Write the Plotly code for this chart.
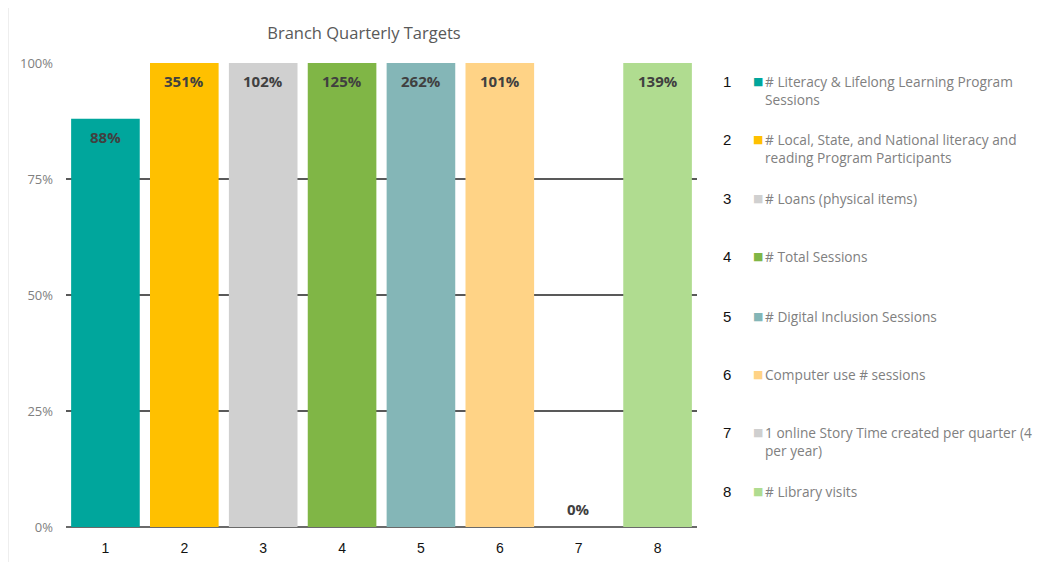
import numpy as np
import plotly.graph_objects as go

categories = ["1", "2", "3", "4", "5", "6", "7", "8"]
values = [0.88, 3.51, 1.02, 1.25, 2.62, 1.01, 0.0, 1.39]
labels = ["88%", "351%", "102%", "125%", "262%", "101%", "0%", "139%"]
legend_names = [
    "# Literacy & Lifelong Learning Program<br>Sessions",
    "# Local, State, and National literacy and<br>reading Program Participants",
    "# Loans (physical items)",
    "# Total Sessions",
    "# Digital Inclusion Sessions",
    "Computer use # sessions",
    "1 online Story Time created per quarter (4<br>per year)",
    "# Library visits",
]
colors = ["#00A69C", "#FFC000", "#D0D0D0", "#80B646", "#84B6B7", "#FFD386", "#CFCFCF", "#B0DC90"]
tick_vals = [0, 0.25, 0.5, 0.75, 1.0]
tick_text = ["0%", "25%", "50%", "75%", "100%"]

shown = np.minimum(np.array(values), 1.0)

# page offset (body margin) and plot area in page pixels
OFF = 8
W, H = 1047 - OFF, 562 - OFF
PL, PR, PT, PB = 66, 697, 63, 527
PW, PH = PR - PL, PB - PT


def px(x):
    return (x - PL) / PW


def py(y):
    return (PB - y) / PH


fig = go.Figure()
fig.add_trace(go.Bar(
    x=categories, y=shown, marker=dict(color=colors, line=dict(width=0)),
    showlegend=False, hoverinfo="skip",
))

for i, (v, lab) in enumerate(zip(shown, labels)):
    if v > 0:
        fig.add_annotation(x=i, y=v, text="<b>" + lab + "</b>", showarrow=False,
                           yanchor="top", yshift=-6, xref="x", yref="y",
                           font=dict(family="Open Sans", size=15, color="#404040"))
    else:
        fig.add_annotation(x=i, y=v, text="<b>" + lab + "</b>", showarrow=False,
                           yanchor="bottom", yshift=6, xref="x", yref="y",
                           font=dict(family="Open Sans", size=15, color="#404040"))

# Custom legend
legend_y = [81, 139, 198, 256, 316, 374, 432, 491]
for cat, name, col, yy in zip(categories, legend_names, colors, legend_y):
    fig.add_annotation(x=px(727), y=py(yy), xref="paper", yref="paper", text=cat,
                       showarrow=False, xanchor="center", yanchor="middle",
                       font=dict(family="Liberation Sans", size=15, color="#111111"))
    fig.add_annotation(x=px(751), y=py(yy), xref="paper", yref="paper", text="■",
                       showarrow=False, xanchor="left", yanchor="middle",
                       font=dict(family="DejaVu Sans", size=11, color=col))
    fig.add_annotation(x=px(763), y=py(yy - 11), xref="paper", yref="paper", text=name,
                       showarrow=False, xanchor="left", yanchor="top", align="left",
                       font=dict(family="Open Sans", size=13.7, color="#808080"))

fig.add_shape(type="rect", xref="paper", yref="paper", x0=px(8.5), x1=px(1100), y0=py(700), y1=py(7.5),
              line=dict(color="#EEEEEE", width=1), fillcolor="rgba(0,0,0,0)")

fig.update_layout(
    width=W, height=H,
    margin=dict(l=PL - OFF, r=W - (PR - OFF), t=PT - OFF, b=H - (PB - OFF), pad=0, autoexpand=False),
    paper_bgcolor="white", plot_bgcolor="white",
    bargap=0.13,
    title=dict(text="Branch Quarterly Targets", x=(364 - OFF) / W, xanchor="center",
               y=1 - (33 - OFF) / H, yanchor="middle",
               font=dict(family="Open Sans", size=16.5, color="#595959")),
    xaxis=dict(type="category", automargin=False, showgrid=False, showline=False, ticks="",
               ticklabelstandoff=11,
               tickfont=dict(family="Liberation Sans", size=14, color="#111111")),
    yaxis=dict(range=[0, 1], automargin=False, tickvals=tick_vals, ticktext=tick_text, showgrid=True,
               gridcolor="#595959", gridwidth=2, zeroline=True, zerolinecolor="#6a6a6a", zerolinewidth=2,
               ticks="", ticklabelstandoff=12,
               tickfont=dict(family="Open Sans", size=13, color="#808080")),
)

fig.write_html("out.html")
